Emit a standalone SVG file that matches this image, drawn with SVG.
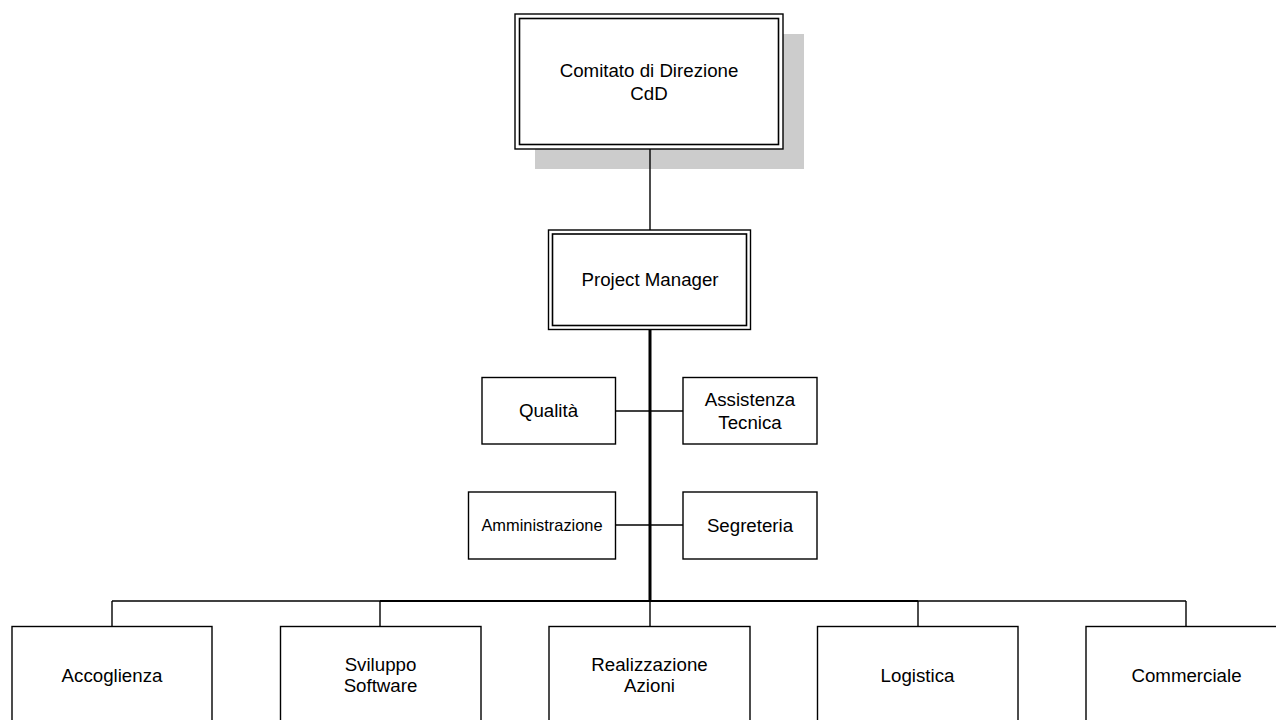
<svg xmlns="http://www.w3.org/2000/svg" width="1276" height="720" viewBox="0 0 1276 720">
<style>
  .box { fill: #ffffff; stroke: #000000; stroke-width: 1.4; }
  .dbl { fill: none; stroke: #000000; stroke-width: 1.6; }
  .shadow { fill: #cccccc; stroke: none; }
  .ln { stroke: #000000; stroke-width: 1.4; fill: none; }
  .thick { stroke: #000000; stroke-width: 3; fill: none; }
  .mid { stroke: #000000; stroke-width: 2.2; fill: none; }
  text { font-family: "Liberation Sans", Arial, sans-serif; font-size: 18.7px; fill: #000000; text-anchor: middle; }
  .small { font-size: 16.4px; }
</style>
<rect width="1276" height="720" fill="#ffffff"/>

<g id="cdd">
  <rect class="shadow" x="535" y="34" width="269" height="135"/>
  <rect class="box" x="515" y="14" width="268" height="135" stroke-width="1.6"/>
  <rect class="dbl" x="519.5" y="18.5" width="259" height="126"/>
  <text x="649" y="77">Comitato di Direzione</text>
  <text x="649" y="99.5">CdD</text>
</g>

<g id="connectors">
  <line class="ln" x1="650" y1="149" x2="650" y2="230"/>
  <line class="thick" x1="650" y1="329" x2="650" y2="601"/>
  <line class="ln" x1="615" y1="411" x2="683" y2="411"/>
  <line class="ln" x1="615" y1="525" x2="683" y2="525"/>
  <line class="ln" x1="112" y1="601" x2="1186" y2="601"/>
  <line class="mid" x1="380" y1="601" x2="918" y2="601"/>
  <line class="ln" x1="112" y1="601" x2="112" y2="626"/>
  <line class="ln" x1="380" y1="601" x2="380" y2="626"/>
  <line class="ln" x1="650" y1="601" x2="650" y2="626"/>
  <line class="ln" x1="918" y1="601" x2="918" y2="626"/>
  <line class="ln" x1="1186" y1="601" x2="1186" y2="626"/>
</g>

<g id="pm">
  <rect class="box" x="548.5" y="230" width="202" height="99.5" stroke-width="1.6"/>
  <rect class="dbl" x="552.5" y="234" width="194" height="91.5"/>
  <text x="650" y="286">Project Manager</text>
</g>

<g id="qualita">
  <rect class="box" x="482" y="377.5" width="133.5" height="66.5"/>
  <text x="548.5" y="417">Qualità</text>
</g>

<g id="assistenza">
  <rect class="box" x="683" y="377.5" width="134" height="66.5"/>
  <text x="750" y="406">Assistenza</text>
  <text x="750" y="428.5">Tecnica</text>
</g>

<g id="amministrazione">
  <rect class="box" x="468.5" y="492" width="147" height="67"/>
  <text class="small" x="542" y="531">Amministrazione</text>
</g>

<g id="segreteria">
  <rect class="box" x="683" y="492" width="134" height="67"/>
  <text x="750" y="531.5">Segreteria</text>
</g>

<g id="accoglienza">
  <rect class="box" x="12" y="626.5" width="200" height="98"/>
  <text x="112" y="681.5">Accoglienza</text>
</g>

<g id="sviluppo">
  <rect class="box" x="280.5" y="626.5" width="200.5" height="98"/>
  <text x="380.5" y="670.5">Sviluppo</text>
  <text x="380.5" y="692">Software</text>
</g>

<g id="realizzazione">
  <rect class="box" x="549" y="626.5" width="201" height="98"/>
  <text x="649.5" y="670.5">Realizzazione</text>
  <text x="649.5" y="692">Azioni</text>
</g>

<g id="logistica">
  <rect class="box" x="817.5" y="626.5" width="200.5" height="98"/>
  <text x="917.5" y="681.5">Logistica</text>
</g>

<g id="commerciale">
  <rect class="box" x="1086" y="626.5" width="201" height="98"/>
  <text x="1186.5" y="681.5">Commerciale</text>
</g>
</svg>
